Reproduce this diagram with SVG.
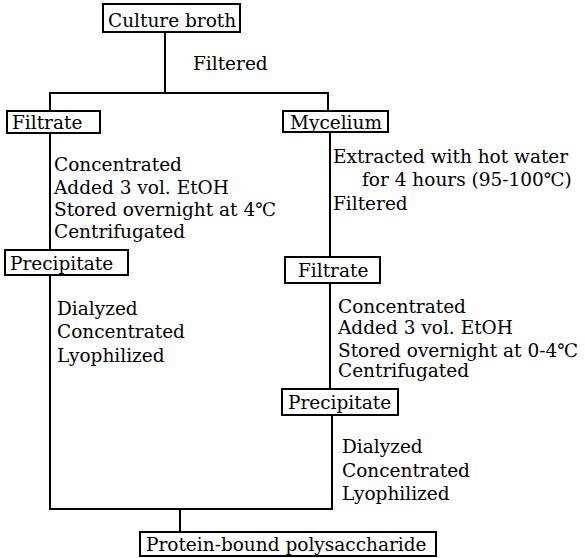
<svg xmlns="http://www.w3.org/2000/svg" width="585" height="558" viewBox="0 0 585 558">
<style>
text{font-family:"DejaVu Serif","Liberation Serif",serif;font-size:18.5px;fill:#000}
.box{fill:#fff;stroke:#000;stroke-width:2}
.ln{fill:none;stroke:#000;stroke-width:2}
</style>
<rect width="585" height="558" fill="#fff"/>
<g id="connectors">
<polyline class="ln" points="165,32 165,93"/>
<polyline class="ln" points="50,111 50,93 328,93 328,111"/>
<polyline class="ln" points="50,133 50,250"/>
<polyline class="ln" points="50,275 50,509 332,509 332,415"/>
<polyline class="ln" points="330,132 330,257"/>
<polyline class="ln" points="330,283 330,389"/>
<polyline class="ln" points="180,509 180,532"/>
<text x="193" y="70">Filtered</text>
<text x="54" y="171">Concentrated</text>
<text x="54" y="194">Added 3 vol. EtOH</text>
<text x="54" y="216">Stored overnight at 4℃</text>
<text x="54" y="238">Centrifugated</text>
<text x="57" y="315">Dialyzed</text>
<text x="57" y="338">Concentrated</text>
<text x="57" y="362">Lyophilized</text>
<text x="333" y="163">Extracted with hot water</text>
<text x="362" y="186">for 4 hours (95-100℃)</text>
<text x="333" y="210">Filtered</text>
<text x="338" y="313">Concentrated</text>
<text x="338" y="334">Added 3 vol. EtOH</text>
<text x="338" y="357">Stored overnight at 0-4℃</text>
<text x="338" y="377">Centrifugated</text>
<text x="342" y="453">Dialyzed</text>
<text x="342" y="477">Concentrated</text>
<text x="342" y="500">Lyophilized</text>
</g>
<g id="culture-broth"><rect class="box" x="103" y="4" width="137" height="28"/><text x="108" y="27">Culture broth</text></g>
<g id="filtrate-left"><rect class="box" x="7" y="111" width="93" height="22"/><text x="12" y="129">Filtrate</text></g>
<g id="mycelium"><rect class="box" x="283" y="111" width="105" height="21"/><text x="290" y="129">Mycelium</text></g>
<g id="precipitate-left"><rect class="box" x="5" y="250" width="123" height="25"/><text x="10" y="270">Precipitate</text></g>
<g id="filtrate-right"><rect class="box" x="285" y="257" width="95" height="26"/><text x="298" y="277">Filtrate</text></g>
<g id="precipitate-right"><rect class="box" x="282" y="389" width="116" height="26"/><text x="288" y="409">Precipitate</text></g>
<g id="protein"><rect class="box" x="140" y="532" width="296" height="24"/><text x="146" y="551">Protein-bound polysaccharide</text></g>
</svg>
